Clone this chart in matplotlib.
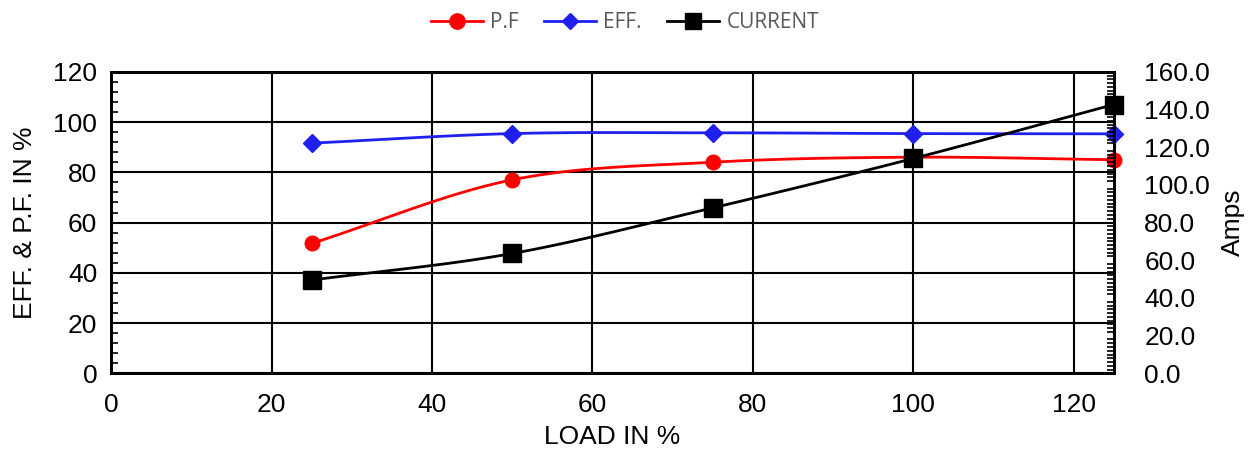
import numpy as np
import matplotlib.pyplot as plt
from matplotlib.ticker import MultipleLocator, FormatStrFormatter

# data
load = [25, 50, 75, 100, 125]
pf = [51.7, 77.0, 84.0, 86.0, 85.0]
eff = [91.6, 95.4, 95.7, 95.4, 95.3]
current = [49.5, 63.6, 87.8, 114.0, 142.6]


def smooth(x, y, n=30):
    # Catmull-Rom curve through the points, like Excel's smoothed line
    x = np.asarray(x, float)
    y = np.asarray(y, float)
    px = np.concatenate([[2 * x[0] - x[1]], x, [2 * x[-1] - x[-2]]])
    py = np.concatenate([[2 * y[0] - y[1]], y, [2 * y[-1] - y[-2]]])
    xs, ys = [], []
    t = np.linspace(0, 1, n)
    for i in range(1, len(px) - 2):
        for p, out in ((px, xs), (py, ys)):
            p0, p1, p2, p3 = p[i - 1], p[i], p[i + 1], p[i + 2]
            out.extend(0.5 * ((2 * p1) + (-p0 + p2) * t
                              + (2 * p0 - 5 * p1 + 4 * p2 - p3) * t ** 2
                              + (-p0 + 3 * p1 - 3 * p2 + p3) * t ** 3))
    return xs, ys


plt.rcParams['font.family'] = ['Liberation Sans', 'DejaVu Sans']
fs = 19

fig, ax = plt.subplots(figsize=(12.5, 4.57), dpi=100)
fig.subplots_adjust(left=0.089, right=0.891, top=0.843, bottom=0.183)
ax2 = ax.twinx()

sx, sy = smooth(load, pf)
ax.plot(sx, sy, color='#ff0000', lw=2, zorder=3, clip_on=False)
ax.plot(load, pf, 'o', color='#ff0000', ms=10.5, zorder=4, clip_on=False)
sx, sy = smooth(load, eff)
ax.plot(sx, sy, color='#2020ee', lw=2, zorder=3, clip_on=False)
ax.plot(load, eff, 'D', color='#2020ee', ms=9.5, zorder=4, clip_on=False)
sx, sy = smooth(load, current)
ax2.plot(sx, sy, color='black', lw=2, zorder=3, clip_on=False)
ax2.plot(load, current, 's', color='black', ms=13, zorder=4, clip_on=False)

ax.set_xlim(0, 125)
ax.set_ylim(0, 120)
ax2.set_ylim(0, 160)
ax.xaxis.set_major_locator(MultipleLocator(20))
ax.yaxis.set_major_locator(MultipleLocator(20))
ax.yaxis.set_minor_locator(MultipleLocator(4))
ax2.yaxis.set_major_locator(MultipleLocator(20))
ax2.yaxis.set_minor_locator(MultipleLocator(2))
ax2.yaxis.set_major_formatter(FormatStrFormatter('%.1f'))

ax.grid(which='major', color='black', lw=1.5)
ax.tick_params(axis='x', length=0, labelsize=fs, pad=14)
ax.tick_params(axis='y', which='major', length=0, labelsize=fs, pad=10)
ax.tick_params(axis='y', which='minor', direction='in', length=5, width=1.2)
ax2.tick_params(axis='y', which='major', length=0, labelsize=fs, pad=22)
ax2.tick_params(axis='y', which='minor', direction='in', length=5, width=1.2)
for a in (ax, ax2):
    for s in a.spines.values():
        s.set_linewidth(2)

ax.set_xlabel('LOAD IN %', fontsize=fs, labelpad=6)
ax.set_ylabel('EFF. & P.F. IN %', fontsize=fs, labelpad=12)
ax2.set_ylabel('Amps', fontsize=fs, labelpad=8)

h = [plt.Line2D([], [], color='#ff0000', marker='o', ms=11, lw=2),
     plt.Line2D([], [], color='#2020ee', marker='D', ms=8, lw=2),
     plt.Line2D([], [], color='black', marker='s', ms=11, lw=2)]
fig.legend(h, ['P.F', 'EFF.', 'CURRENT'], loc='upper center', ncol=3,
           bbox_to_anchor=(0.5, 1.015), frameon=False, handlelength=2.5,
           columnspacing=1.2, handletextpad=0.35,
           prop={'family': 'Open Sans', 'size': 15}, labelcolor='#595959')

plt.savefig('out.png')
